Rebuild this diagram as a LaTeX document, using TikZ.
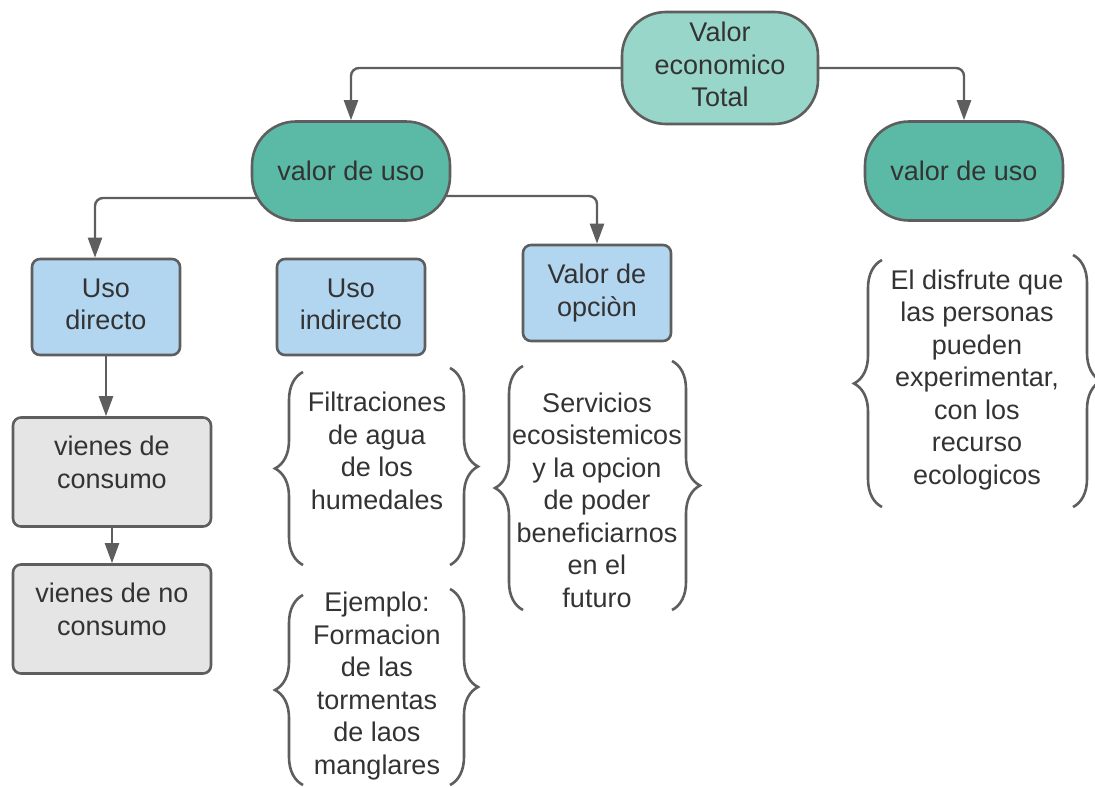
\documentclass[tikz,border=0pt]{standalone}
\usepackage{fontspec}
\setmainfont{Liberation Sans}
\usepackage{xcolor}
\usepackage{tikz}
\usetikzlibrary{arrows.meta,backgrounds,decorations.pathreplacing}
\definecolor{ink}{HTML}{333333}
\definecolor{edge}{HTML}{5E5E5E}
\definecolor{mint}{HTML}{99D6CA}
\definecolor{tealfill}{HTML}{5BBAA6}
\definecolor{sky}{HTML}{B2D6F0}
\definecolor{stone}{HTML}{E5E5E5}
\tikzset{
  boxbase/.style={draw=edge, line width=2.6pt, text=ink, align=center, inner sep=0pt,
    font=\fontsize{27}{32.5}\selectfont},
  pill/.style={boxbase, rounded corners=44pt, minimum width=198pt},
  topbox/.style={pill, fill=mint, minimum width=196pt, minimum height=112pt, text depth=7pt},
  usebox/.style={pill, fill=tealfill, minimum height=99pt},
  bluebox/.style={boxbase, fill=sky, rounded corners=8pt, minimum width=148pt, minimum height=96pt, text depth=6pt},
  greybox/.style={boxbase, fill=stone, rounded corners=8pt, minimum width=198pt, minimum height=109pt, text depth=20pt},
  note/.style={text=ink, align=center, inner sep=0pt, font=\fontsize{27}{32.5}\selectfont},
  link/.style={draw=edge, line width=2.4pt, rounded corners=8pt, -{Triangle[length=20pt,width=14pt]}},
  curly/.style={draw=edge, line width=2.6pt, decorate, decoration={brace, amplitude=28pt}},
}

\begin{document}
\begin{tikzpicture}[x=1pt,y=-1pt]
  \useasboundingbox (0,0) rectangle (1095,787);
  \node[topbox] (total) at (720,68) {Valor\\economico\\Total};
  \node[usebox] (usoA) at (351,171) {valor de uso};
  \node[usebox] (usoB) at (964,171) {valor de uso};
  \node[bluebox] (directo) at (106,307) {Uso\\directo};
  \node[bluebox] (indirecto) at (351,307) {Uso\\indirecto};
  \node[bluebox] (opcion) at (597,293) {Valor de\\opciòn};
  \node[greybox] (consumo) at (112,472) {vienes de\\consumo};
  \node[greybox] (noconsumo) at (112,619) {vienes de no\\consumo};
  \node[note] (filtra) at (377,451) {Filtraciones\\de agua\\de los\\humedales};
  \node[note] (ejemplo) at (377,686) {Ejemplo:\\Formacion\\de las\\tormentas\\de laos\\manglares};
  \node[note] (servicios) at (597,500) {Servicios\\ecosistemicos\\y la opcion\\de poder\\beneficiarnos\\en el\\futuro};
  \node[note] (disfrute) at (977,380) {El disfrute que\\las personas\\pueden\\experimentar,\\con los\\recurso\\ecologicos};
  \begin{scope}[on background layer]
    \draw[link] (total.center) -| (usoA.north);
    \draw[link] (total.center) -| (usoB.north);
    \draw[link] ([yshift=-27pt]usoA.center) -| ([xshift=-11pt]directo.north);
    \draw[link] ([yshift=-25pt]usoA.center) -| (opcion.north);
    \draw[link] (directo.south) -- (directo.south |- consumo.north);
    \draw[link] (consumo) -- (noconsumo);
  \end{scope}
  % braces round the notes
  \draw[curly] (303,565) -- (303,372);
  \draw[curly] (450,368) -- (450,565);
  \draw[curly] (303,785) -- (303,595);
  \draw[curly] (450,589) -- (450,785);
  \draw[curly] (523,610) -- (523,366);
  \draw[curly] (672,361) -- (672,610);
  \draw[curly] (882,507) -- (882,260);
  \draw[curly] (1073,255) -- (1073,507);
\end{tikzpicture}
\end{document}
